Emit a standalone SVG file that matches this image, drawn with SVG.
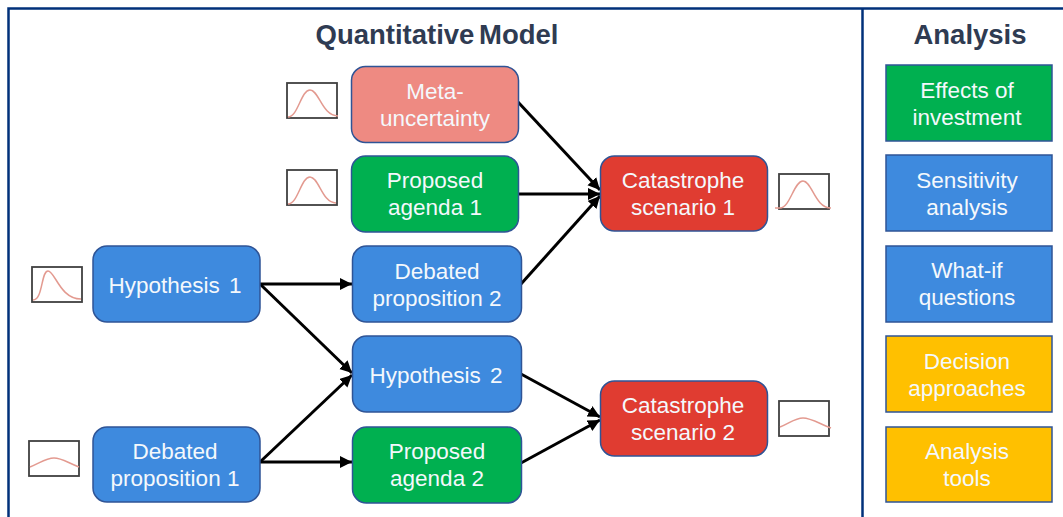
<svg xmlns="http://www.w3.org/2000/svg" width="1063" height="517" viewBox="0 0 1063 517">
<defs>
<marker id="ah" markerUnits="userSpaceOnUse" markerWidth="13" markerHeight="13" refX="12" refY="6" orient="auto"><path d="M0 0L12 6L0 12Z" fill="#000"/></marker>
</defs>
<style>
text{font-family:"Liberation Sans",Arial,sans-serif;text-anchor:middle}
.t{font-size:22.500px;fill:#f4f8fc}
.h{font-size:27.500px;font-weight:bold;fill:#2f3b52}
.n{stroke:#2f5496;stroke-width:1.5}
.b{fill:#3e8ade}.g{fill:#00b050}.r{fill:#e03c31}.p{fill:#ee8a82}.y{fill:#ffc000}
.f{fill:#fff;stroke:#404040;stroke-width:1.8}
.c{fill:none;stroke:#e39a90;stroke-width:1.5}
.e{stroke:#000;stroke-width:3;fill:none;marker-end:url(#ah)}
</style>
<rect width="1063" height="517" fill="#fff"/>
<g id="frame" fill="none" stroke="#00307a" stroke-width="2.500">
<path d="M8.500 517V8.500H1063"/>
<path d="M862.500 8.500V517"/>
</g>
<text class="h" x="437" y="44" style="word-spacing:-3px">Quantitative Model</text>
<text class="h" x="970" y="44">Analysis</text>
<g id="connectors">
<path class="e" d="M518 102L600 190"/>
<path class="e" d="M518 194H600"/>
<path class="e" d="M521 284L600 196"/>
<path class="e" d="M260 284H352"/>
<path class="e" d="M260 284L352 373"/>
<path class="e" d="M260 462L352 375"/>
<path class="e" d="M260 462H352"/>
<path class="e" d="M521 374L600 417"/>
<path class="e" d="M521 463L600 420"/>
</g>
<g id="node-meta"><rect class="n p" x="351.500" y="66.500" width="167" height="76" rx="14"/><text class="t" x="435" y="99">Meta-</text><text class="t" x="435" y="126">uncertainty</text></g>
<g id="node-agenda1"><rect class="n g" x="351.500" y="156" width="167" height="76" rx="14"/><text class="t" x="435" y="188">Proposed</text><text class="t" x="435" y="215">agenda 1</text></g>
<g id="node-prop2"><rect class="n b" x="352.500" y="246" width="169" height="76" rx="14"/><text class="t" x="437" y="279">Debated</text><text class="t" x="437" y="306">proposition 2</text></g>
<g id="node-hyp2"><rect class="n b" x="352.500" y="336" width="169" height="76" rx="14"/><text class="t" x="436" y="383" style="word-spacing:3px">Hypothesis 2</text></g>
<g id="node-agenda2"><rect class="n g" x="352.500" y="427" width="169" height="76" rx="14"/><text class="t" x="437" y="459">Proposed</text><text class="t" x="437" y="486">agenda 2</text></g>
<g id="node-hyp1"><rect class="n b" x="93" y="246" width="167" height="76" rx="14"/><text class="t" x="175" y="293" style="word-spacing:3px">Hypothesis 1</text></g>
<g id="node-prop1"><rect class="n b" x="93" y="427" width="167" height="75" rx="14"/><text class="t" x="175" y="459">Debated</text><text class="t" x="175" y="486">proposition 1</text></g>
<g id="node-cat1"><rect class="n r" x="600.500" y="156" width="167" height="75" rx="14"/><text class="t" x="683" y="188">Catastrophe</text><text class="t" x="683" y="215">scenario 1</text></g>
<g id="node-cat2"><rect class="n r" x="600.500" y="381" width="167" height="75" rx="14"/><text class="t" x="683" y="413">Catastrophe</text><text class="t" x="683" y="440">scenario 2</text></g>
<g id="node-a1"><rect class="n g" x="886" y="65" width="166" height="76"/><text class="t" x="967" y="98">Effects of</text><text class="t" x="967" y="125">investment</text></g>
<g id="node-a2"><rect class="n b" x="886" y="155" width="166" height="76"/><text class="t" x="967" y="188">Sensitivity</text><text class="t" x="967" y="215">analysis</text></g>
<g id="node-a3"><rect class="n b" x="886" y="246" width="166" height="76"/><text class="t" x="967" y="278">What-if</text><text class="t" x="967" y="305">questions</text></g>
<g id="node-a4"><rect class="n y" x="886" y="336" width="166" height="76"/><text class="t" x="967" y="369">Decision</text><text class="t" x="967" y="396">approaches</text></g>
<g id="node-a5"><rect class="n y" x="886" y="427" width="166" height="75"/><text class="t" x="967" y="459">Analysis</text><text class="t" x="967" y="486">tools</text></g>
<g id="dist-1"><rect class="f" x="287" y="83" width="50" height="35"/><path class="c" d="M288 117C298 117 301 90 310 90C319 90 322 116 338 116"/></g>
<g id="dist-2"><rect class="f" x="287" y="170" width="50" height="35"/><path class="c" d="M288 204C298 204 301 177 310 177C319 177 322 203 336 203"/></g>
<g id="dist-3"><rect class="f" x="32" y="267" width="50" height="35"/><path class="c" d="M33 300C43 300 41 271 48 271C55 271 60 299 81 299"/></g>
<g id="dist-4"><rect class="f" x="29" y="441" width="50" height="35"/><path class="c" d="M30 467C40 463 46 458 54 458C62 458 68 463 79 467"/></g>
<g id="dist-5"><rect class="f" x="779" y="174" width="50" height="35"/><path class="c" d="M775 208H780C790 208 794 181 803 181C812 181 815 208 831 208"/></g>
<g id="dist-6"><rect class="f" x="779" y="401" width="50" height="35"/><path class="c" d="M780 427C790 423 795 418 803 418C811 418 820 424 831 428"/></g>
</svg>
